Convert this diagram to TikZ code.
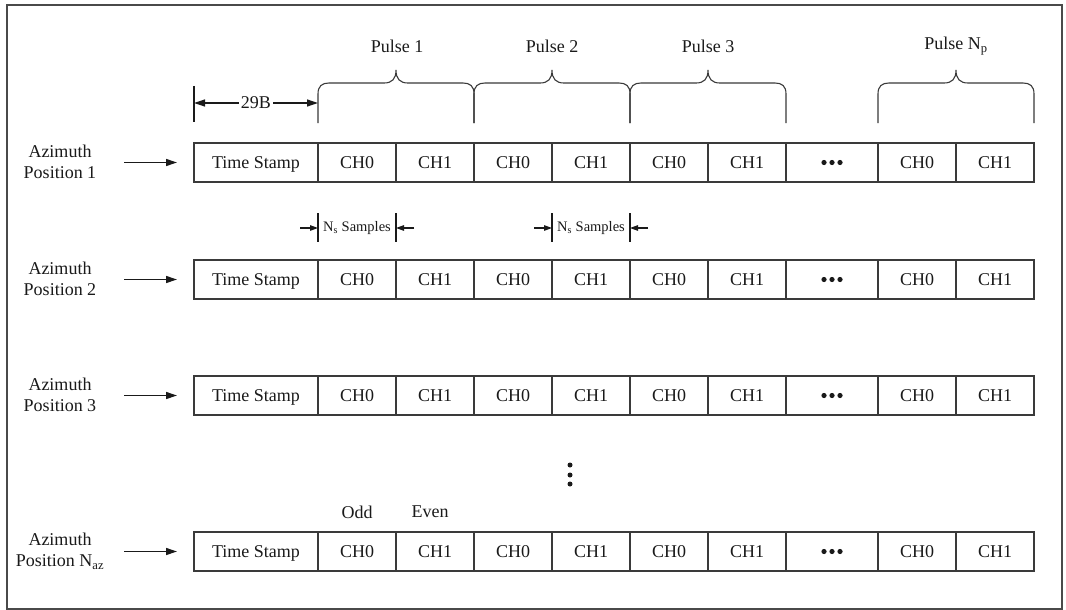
\documentclass[tikz,border=0pt]{standalone}
\usepackage{fontspec}
\setmainfont{Liberation Serif}
\usetikzlibrary{arrows.meta}
\definecolor{linegray}{HTML}{3A3A3A}
\definecolor{txt}{HTML}{1A1A1A}
\definecolor{framegray}{HTML}{4A4A4A}
\newcommand\pbrace[2]{%
  \draw[brace] (#1,123) -- (#1,94) .. controls (#1,86) and (#1+4,83) .. (#1+11,83)
    -- ({(#1+#2)/2-12},83) .. controls ({(#1+#2)/2-4},83) and ({(#1+#2)/2},79) .. ({(#1+#2)/2},70)
    .. controls ({(#1+#2)/2},79) and ({(#1+#2)/2+4},83) .. ({(#1+#2)/2+12},83)
    -- (#2-11,83) .. controls (#2-4,83) and (#2,86) .. (#2,94) -- (#2,123);}
\begin{document}
\begin{tikzpicture}[x=1pt,y=-1pt,
  cell/.style={draw=linegray, line width=1.1pt, inner sep=0pt, outer sep=0pt,
    minimum height=39pt, anchor=north west, font=\fontsize{18}{21}\selectfont, text=txt,
    text height=13pt, text depth=1pt},
  lbl/.style={font=\fontsize{18}{21.5}\selectfont, align=center, text=txt, inner sep=1pt},
  small/.style={font=\fontsize{14.5}{17}\selectfont, text=txt, inner sep=1pt},
  arr/.style={-{Triangle[length=11pt,width=7pt]}, line width=1.3pt, draw=txt},
  arrs/.style={-{Triangle[length=8pt,width=5.5pt]}, line width=1.2pt, draw=txt},
  brace/.style={line width=1.1pt, draw=linegray},
  tick/.style={line width=1.2pt, draw=txt}]
\useasboundingbox (0,0) rectangle (1066,610);
\fill[white] (0,0) rectangle (1066,610);
\draw[line width=1.5pt, draw=framegray] (7,5) rectangle (1062,609);

% rows
\foreach \r/\t/\lab in {1/143/{Azimuth\\Position 1}, 2/260/{Azimuth\\Position 2},
    3/376/{Azimuth\\Position 3}, 4/532/{Azimuth\\Position N\textsubscript{az}}} {
  \foreach \i/\x/\w/\txt in {0/194/124/Time Stamp, 1/318/78/CH0, 2/396/78/CH1,
      3/474/78/CH0, 4/552/78/CH1, 5/630/78/CH0, 6/708/78/CH1,
      7/786/92/{}, 8/878/78/CH0, 9/956/78/CH1}
    \node[cell, minimum width=\w pt] (r\r c\i) at (\x,\t) {\txt};
  \fill[txt] ([xshift=-8pt]r\r c7.center) circle (2.6pt)
             (r\r c7.center) circle (2.6pt)
             ([xshift=8pt]r\r c7.center) circle (2.6pt);
  \node[lbl] (az\r) at (60,\t+19) {\lab};
  \coordinate (st\r) at (124,\t+19.5);
  \draw[arr] (st\r) -- ([xshift=-17pt]r\r c0.west);
}

% pulse braces
\pbrace{318}{474}
\pbrace{474}{630}
\pbrace{630}{786}
\pbrace{878}{1034}
\node[lbl] (p1) at (397,46) {Pulse 1};
\node[lbl] (p2) at (552,46) {Pulse 2};
\node[lbl] (p3) at (708,46) {Pulse 3};
\node[lbl] (pn) at (956,46) {Pulse N\textsubscript{p}};

% 29B dimension
\coordinate (t0) at (194,86);
\coordinate (t1) at (194,122);
\draw[tick] (t0) -- (t1);
\coordinate (d0) at (194,103);
\coordinate (d1) at (318,103);
\draw[line width=1.2pt, draw=txt, {Triangle[length=11pt,width=7pt]}-{Triangle[length=11pt,width=7pt]}]
  (d0) -- (d1) node[midway, fill=white, lbl, inner sep=1.5pt] (b29) {29B};

% Ns Samples dimensions
\foreach \k/\a/\b in {1/318/396, 2/552/630} {
  \draw[tick] (\a,213) -- (\a,242);
  \draw[tick] (\b,213) -- (\b,242);
  \coordinate (nl\k) at (\a-18,228);
  \coordinate (nla\k) at (\a,228);
  \coordinate (nr\k) at (\b+18,228);
  \coordinate (nra\k) at (\b,228);
  \draw[arrs] (nl\k) -- (nla\k);
  \draw[arrs] (nr\k) -- (nra\k);
  \node[small] (ns\k) at ({(\a+\b)/2},228) {N\textsubscript{s} Samples};
}

% vertical ellipsis
\fill[txt] (570,465) circle (2.5pt);
\fill[txt] (570,475) circle (2.5pt);
\fill[txt] (570,484) circle (2.5pt);

% Odd / Even
\node[lbl] (odd) at (357,512) {Odd};
\node[lbl] (even) at (430,512) {Even};
\end{tikzpicture}
\end{document}
